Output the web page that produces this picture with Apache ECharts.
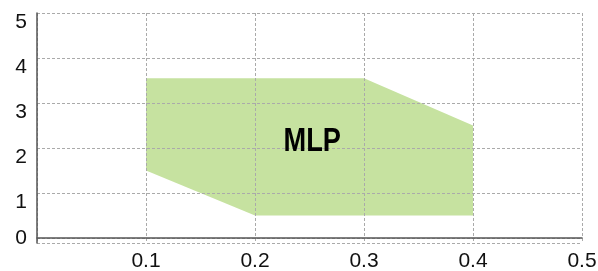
<!DOCTYPE html>
<html>
<head>
<meta charset="utf-8">
<script src="https://cdn.jsdelivr.net/npm/echarts@6/dist/echarts.min.js"></script>
<style>
  html, body { margin: 0; padding: 0; background: #fff; }
  #chart { width: 598px; height: 271px; }
</style>
</head>
<body>
<div id="chart"></div>
<script>
// region outline (x, y)
const mlpX = [0.1, 0.3, 0.4, 0.4, 0.2, 0.1];
const mlpY = [3.55, 3.55, 2.5, 0.5, 0.5, 1.5];
const regionName = "MLP";
const labelPos = [0.2525, 2.15];

const font = '"Liberation Sans", Arial, sans-serif';
const gridColor = "#aaa";

const chart = echarts.init(document.getElementById("chart"));

chart.setOption({
  animation: false,
  grid: { left: 37, right: 16, top: 13, bottom: 28, outerBoundsMode: "none" },
  xAxis: {
    type: "value",
    min: 0,
    max: 0.5,
    interval: 0.1,
    z: 3,
    axisLine: { lineStyle: { color: "#555", width: 1.5 } },
    axisTick: { show: false },
    axisLabel: {
      margin: 8,
      color: "#111",
      fontSize: 21,
      fontFamily: font,
      formatter: v => (v === 0 ? "" : String(Math.round(v * 10) / 10))
    },
    splitLine: { lineStyle: { color: gridColor, type: [3, 2], width: 1 } }
  },
  yAxis: {
    type: "value",
    min: -0.11,
    max: 5,
    splitNumber: 5,
    z: 3,
    axisLine: { show: true, lineStyle: { color: "#555", width: 1.5 } },
    axisTick: { show: false },
    axisLabel: {
      margin: 10,
      color: "#111",
      fontSize: 21,
      lineHeight: 19,
      fontFamily: font,
      // labels sit a little below their grid line, as in the picture
      formatter: v => {
        if (v < 0) return "";
        if (v === 0) return "0";
        return "\n" + v;
      }
    },
    splitLine: { lineStyle: { color: gridColor, type: [3, 2], width: 1 } }
  },
  series: [
    {
      type: "custom",
      z: 1,
      data: [0],
      renderItem: (params, api) => {
        const pts = mlpX.map((x, i) => api.coord([x, mlpY[i]]));
        return {
          type: "polygon",
          shape: { points: pts },
          style: { fill: "#c6e2a0" }
        };
      }
    },
    {
      type: "custom",
      z: 5,
      data: [labelPos],
      renderItem: (params, api) => {
        const p = api.coord(labelPos);
        return {
          type: "text",
          x: p[0],
          y: p[1],
          scaleX: 0.8,
          style: {
            text: regionName,
            fill: "#000",
            fontSize: 34,
            fontWeight: "bold",
            fontFamily: font,
            align: "center",
            verticalAlign: "middle"
          }
        };
      }
    }
  ]
});
</script>
</body>
</html>
